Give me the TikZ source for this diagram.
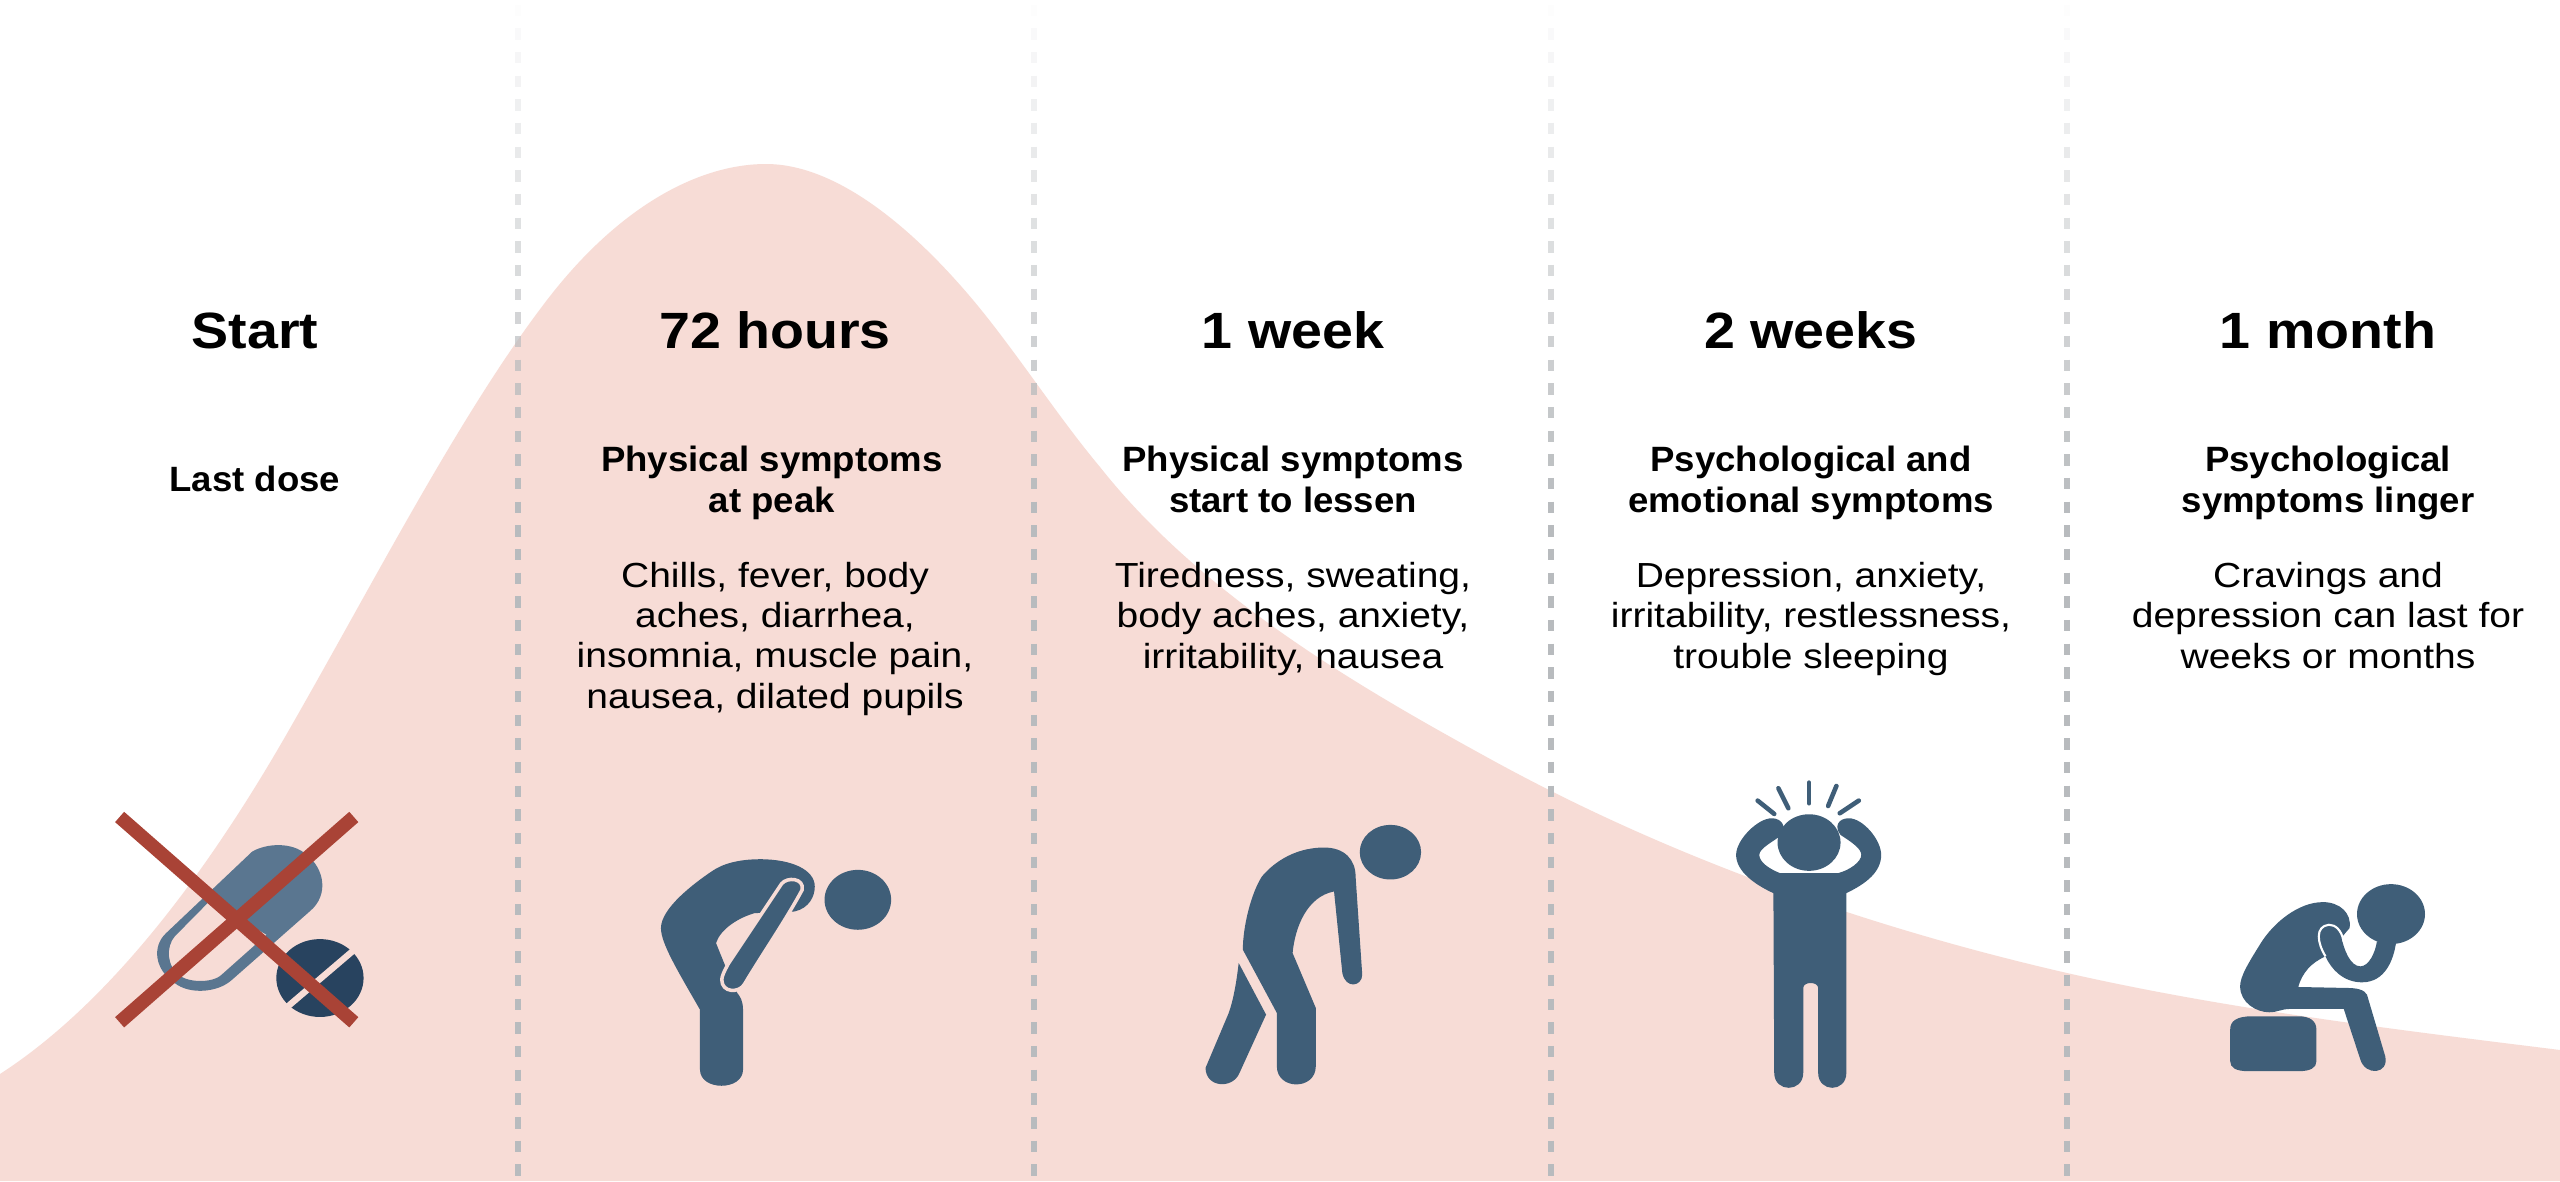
\documentclass[tikz,border=0pt]{standalone}
\usepackage{fontspec}
\setmainfont{Liberation Sans}
\newfontfamily\titlefam[FakeStretch=1.09]{Liberation Sans Bold}
\newfontfamily\subfam[FakeStretch=1.04]{Liberation Sans Bold}
\newfontfamily\bodyfam[FakeStretch=1.12]{Liberation Sans}
\definecolor{hill}{HTML}{F7DCD6}
\definecolor{figure}{HTML}{3F5E78}
\definecolor{capsule}{HTML}{5A7690}
\definecolor{tablet}{HTML}{28435F}
\definecolor{cross}{HTML}{A94336}
\definecolor{rule}{HTML}{B8BBBE}
\tikzset{
  titletext/.style={anchor=base,inner sep=0pt,align=center,font=\titlefam\fontsize{14.5pt}{16pt}\selectfont},
  subtext/.style={anchor=base,inner sep=0pt,align=center,font=\subfam\fontsize{10pt}{11.38pt}\selectfont},
  bodytext/.style={anchor=base,inner sep=0pt,align=center,font=\bodyfam\fontsize{9.9pt}{11.38pt}\selectfont},
  crossline/.style={draw=cross,line width=3.9pt},
  ray/.style={draw=figure,line width=1.3pt,line cap=round},
}
\begin{document}
\begin{tikzpicture}[x=0.01cm,y=-0.01cm]
\useasboundingbox (0,0) rectangle (2560,1181);
\fill[white] (0,0) rectangle (2560,1181);
% hill
\fill[hill] (0,1074) .. controls (96,1012) and (193,898) .. (289,730)
  .. controls (375,580) and (461,412) .. (547,300)
  .. controls (620,205) and (700,164) .. (766,164)
  .. controls (835,164) and (910,225) .. (973,300)
  .. controls (1015,350) and (1058,417) .. (1100,467)
  .. controls (1205,600) and (1370,693) .. (1492,760)
  .. controls (1680,863) and (1880,930) .. (2067,973)
  .. controls (2230,1010) and (2400,1030) .. (2560,1050)
  -- (2560,1181) -- (0,1181) -- cycle;
% dashed rules, fading to the top
\foreach \rx in {518,1034,1551,2067}{
  \foreach \i in {0,...,49}{
    \pgfmathsetmacro{\yy}{4.5+23.67*\i}
    \pgfmathsetmacro{\op}{min(1,0.02+\yy/520)}
    \draw[rule,line width=1.7pt,opacity=\op] (\rx,\yy) -- (\rx,\yy+11.5);
  }
}
% texts
\node[titletext] (t1) at (255,348) {Start};
\node[titletext] (t2) at (775,348) {72 hours};
\node[titletext] (t3) at (1293,348) {1 week};
\node[titletext] (t4) at (1811,348) {2 weeks};
\node[titletext] (t5) at (2328,348) {1 month};
\node[subtext] (s1) at (255,491) {Last dose};
\node[subtext] (s2) at (772,512) {Physical symptoms\\at peak};
\node[subtext] (s3) at (1293,512) {Physical symptoms\\start to lessen};
\node[subtext] (s4) at (1811,512) {Psychological and\\emotional symptoms};
\node[subtext] (s5) at (2328,512) {Psychological\\symptoms linger};
\node[bodytext] (b2) at (775,708) {Chills, fever, body\\aches, diarrhea,\\insomnia, muscle pain,\\nausea, dilated pupils};
\node[bodytext] (b3) at (1293,668) {Tiredness, sweating,\\body aches, anxiety,\\irritability, nausea};
\node[bodytext] (b4) at (1811,668) {Depression, anxiety,\\irritability, restlessness,\\trouble sleeping};
\node[bodytext] (b5) at (2328,668) {Cravings and\\depression can last for\\weeks or months};
% first frame of icons
\begin{scope}[shift={(80,780)},x=0.00574cm,y=-0.003333cm]
  % capsule
  \fill[capsule,even odd rule] (300,215) .. controls (325,190) and (370,185) .. (395,225) .. controls (425,265) and (435,345) .. (400,395) -- (265,600) .. controls (240,640) and (190,645) .. (165,610) .. controls (130,570) and (125,500) .. (150,460) -- cycle
    (225,365) -- (325,465) -- (250,580) .. controls (235,610) and (195,610) .. (175,590) .. controls (150,560) and (150,500) .. (165,470) -- cycle;
  % tablet
  \fill[tablet] (418,595) ellipse [x radius=76,y radius=117];
  \draw[hill,line width=1.8pt] (490,492) -- (350,698);
  % cross
  \draw[crossline] (69,111) -- (477,728);
  \draw[crossline] (477,111) -- (69,728);
  % bowing figure
  \fill[figure] (1355,360) ellipse [x radius=58,y radius=90];
  \fill[figure] (1245,395) .. controls (1270,385) and (1280,350) .. (1280,320)
    .. controls (1280,270) and (1240,238) .. (1185,238)
    .. controls (1150,238) and (1120,250) .. (1100,275)
    .. controls (1070,310) and (1012,385) .. (1012,445)
    .. controls (1012,490) and (1040,570) .. (1080,690)
    -- (1080,870) .. controls (1080,935) and (1155,935) .. (1155,870)
    -- (1155,690) .. controls (1155,665) and (1150,650) .. (1145,640)
    -- (1122,550) -- (1108,490) .. controls (1115,450) and (1145,415) .. (1175,400) -- cycle;
  \filldraw[fill=figure,draw=hill,line width=1pt] (1222,312) .. controls (1232,290) and (1262,295) .. (1258,330)
    .. controls (1230,420) and (1190,520) .. (1157,615)
    .. controls (1148,640) and (1118,640) .. (1118,600)
    .. controls (1118,590) and (1122,575) .. (1130,550) -- cycle;
\end{scope}
% second frame of icons
\begin{scope}[shift={(1150,760)},x=0.00829cm,y=-0.003333cm]
  % stooped figure
  \fill[figure] (290,277) ellipse [x radius=37,y radius=82];
  \fill[figure] (248,350) .. controls (248,300) and (235,263) .. (210,263)
    .. controls (170,263) and (145,320) .. (135,350)
    .. controls (122,400) and (112,500) .. (112,570)
    -- (153,760) -- (153,920) .. controls (153,993) and (200,993) .. (200,920)
    -- (200,745) -- (172,580)
    .. controls (175,500) and (190,410) .. (222,395)
    -- (232,640) .. controls (236,690) and (256,680) .. (256,645)
    -- cycle;
  \fill[figure] (107,610) -- (140,765) -- (108,940) .. controls (100,990) and (67,985) .. (67,925) -- (95,760) .. controls (102,710) and (105,650) .. (107,610) -- cycle;
  % standing figure
  \fill[figure] (795,248) ellipse [x radius=38,y radius=85];
  \fill[figure] (752,400) -- (753,940) .. controls (753,1000) and (788,1000) .. (788,940) -- (788,685) .. controls (788,665) and (806,665) .. (806,685) -- (806,940) .. controls (806,1000) and (840,1000) .. (840,940) -- (840,400)
    .. controls (865,370) and (882,335) .. (882,285)
    .. controls (882,240) and (860,175) .. (843,175)
    .. controls (830,175) and (825,200) .. (833,225)
    .. controls (845,245) and (858,265) .. (858,285)
    .. controls (858,305) and (845,330) .. (830,340)
    -- (760,340)
    .. controls (745,325) and (735,305) .. (735,285)
    .. controls (735,265) and (752,245) .. (762,225)
    .. controls (768,200) and (762,175) .. (750,175)
    .. controls (733,175) and (707,240) .. (707,285)
    .. controls (707,335) and (730,375) .. (752,400) -- cycle;
  \draw[ray] (795,68) -- (795,130);
  \draw[ray] (758,85) -- (770,145);
  \draw[ray] (828,78) -- (818,138);
  \draw[ray] (733,122) -- (753,162);
  \draw[ray] (855,122) -- (832,160);
  % seated figure
  \fill[figure] (1497,463) ellipse [x radius=41,y radius=90];
  \fill[figure] (1447,505) .. controls (1450,460) and (1435,427) .. (1415,427)
    .. controls (1385,427) and (1355,490) .. (1340,550)
    .. controls (1325,610) and (1315,650) .. (1315,680)
    .. controls (1315,730) and (1335,758) .. (1350,758)
    .. controls (1360,758) and (1365,748) .. (1375,748)
    -- (1440,748) -- (1460,900) .. controls (1466,950) and (1495,945) .. (1490,890)
    -- (1468,705) .. controls (1465,690) and (1455,685) .. (1445,685)
    -- (1385,682) .. controls (1390,640) and (1400,610) .. (1418,590) -- cycle;
  \fill[figure] (1422,495) .. controls (1405,500) and (1408,550) .. (1418,590)
    .. controls (1425,630) and (1440,668) .. (1462,668)
    .. controls (1490,668) and (1500,600) .. (1503,550) -- (1480,545)
    .. controls (1478,580) and (1470,620) .. (1460,620)
    .. controls (1448,620) and (1440,570) .. (1437,530)
    .. controls (1435,510) and (1430,495) .. (1422,495) -- cycle;
  \draw[white,line width=.6pt] (1418,590) .. controls (1408,550) and (1405,500) .. (1422,495) .. controls (1430,495) and (1437,510) .. (1440,545);
  % stool
  \fill[figure] (1330,770) -- (1385,770) .. controls (1400,770) and (1407,785) .. (1407,810) -- (1407,905) .. controls (1407,925) and (1400,935) .. (1385,935) -- (1325,935) .. controls (1310,935) and (1303,925) .. (1303,905) -- (1303,810) .. controls (1303,785) and (1310,770) .. (1330,770) -- cycle;
\end{scope}
\end{tikzpicture}
\end{document}
